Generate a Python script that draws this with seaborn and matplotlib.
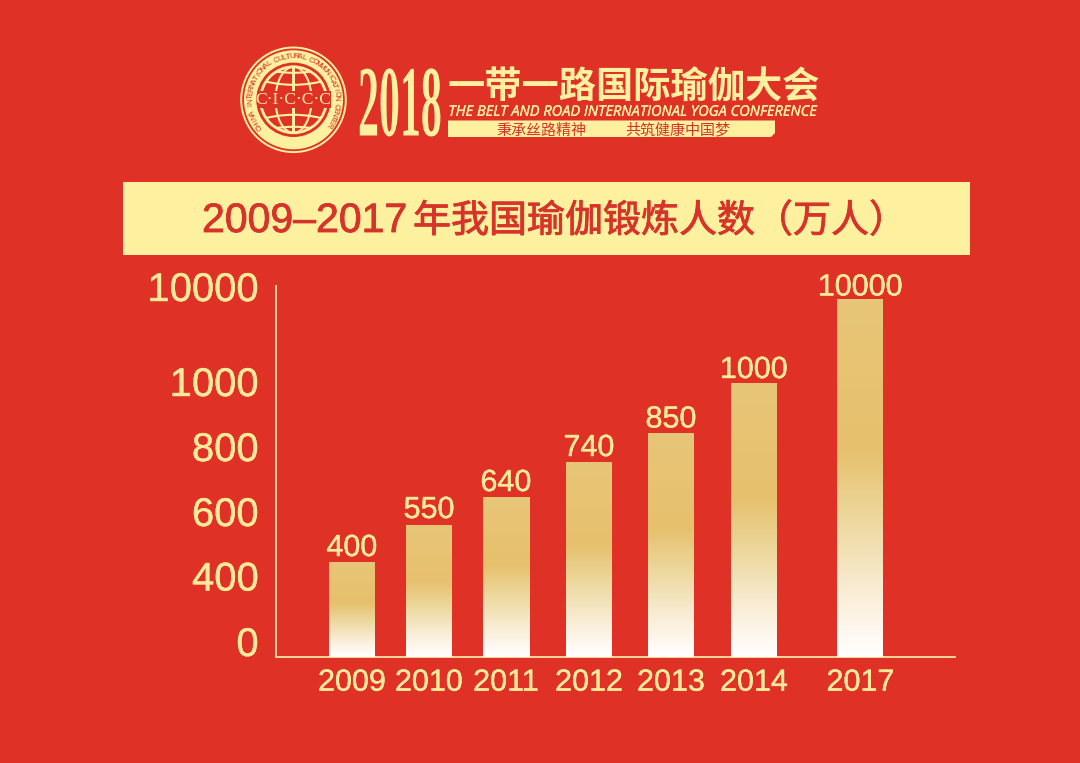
import numpy as np
import matplotlib
matplotlib.use("Agg")
import matplotlib.pyplot as plt
import seaborn as sns
from matplotlib.patches import Circle, Ellipse, Rectangle, Polygon
from matplotlib.patheffects import AbstractPathEffect, withStroke
from matplotlib.transforms import Affine2D, Bbox, BboxTransformTo, TransformedBbox
from matplotlib.colors import LinearSegmentedColormap

# ---- data -------------------------------------------------------------
years = ["2009", "2010", "2011", "2012", "2013", "2014", "2017"]
people = [400, 550, 640, 740, 850, 1000, 10000]
y_tick_labels = ["0", "400", "600", "800", "1000", "10000"]

title_years = "2009–2017"
title_rest = "年我国瑜伽锻炼人数（万人）"
event_year = "2018"
event_cn = "一带一路国际瑜伽大会"
event_en = "THE BELT AND ROAD INTERNATIONAL YOGA CONFERENCE"
slogan_a = "秉承丝路精神"
slogan_b = "共筑健康中国梦"
logo_ring = "CHINA INTERNATIONAL CULTURAL COMMUNICATION CENTER"
logo_mid = "C·I·C·C·C"

# ---- layout (pixels of the 1080x763 canvas) ----------------------------
W, H = 1080, 763
AX_L, AX_R, AX_T, AX_B = 276, 955, 285.7, 657
slots = np.array([352, 429, 506, 589, 671, 754, 860.5])
BAR_PX = 46
# the chart's own uneven vertical scale: value -> height in pixels
scale_values = np.array([0, 400, 550, 640, 740, 850, 1000, 10000, 20000])
scale_px = np.array([0, 94, 132, 160, 195, 223.5, 274, 357.5, AX_B - AX_T])
# tick labels sit at their own heights on the reference
tick_px = np.array([16, 81.5, 146, 211, 276, 371])
# gap between a bar's top and its value label
label_gap_px = [1, 1, 0, 0, 0, -1, -2]

# ---- colours ----------------------------------------------------------
RED = "#E03127"
CREAM = "#FDF09F"
TXT = "#FCEA9B"
LINE = "#FBE3A0"
TITLE_RED = "#D6342A"
grad = LinearSegmentedColormap.from_list(
    "gold_white",
    [(0, "#E8C678"), (0.42, "#E6C06C"), (0.62, "#EDD89E"),
     (0.8, "#F8EBD0"), (0.95, "#FEFAF4"), (1, "#FFFFFF")],
)

sns.set_theme(style="ticks", rc={"figure.facecolor": RED, "axes.facecolor": "none"})
plt.rcParams["font.family"] = ["Liberation Sans", "Noto Sans CJK SC", "DejaVu Sans"]
CJK = ["Noto Sans CJK SC", "DejaVu Sans"]


def px(size):
    return size * 0.72


def heavier(color, lw):
    return [withStroke(linewidth=lw, foreground=color)]


class StretchY(AbstractPathEffect):
    """Stretch a text upward from its baseline (a condensed display face)."""
    def __init__(self, sy):
        super().__init__()
        self.sy = sy

    def draw_path(self, renderer, gc, tpath, affine, rgbFace=None):
        renderer.draw_path(gc, tpath, Affine2D().scale(1, self.sy) + affine, rgbFace)


fig = plt.figure(figsize=(W / 100, H / 100), dpi=100, facecolor=RED)

# ---- backdrop: banner + logo in canvas pixels --------------------------
bg = fig.add_axes([0, 0, 1, 1])
bg.set_xlim(0, W)
bg.set_ylim(H, 0)
bg.axis("off")

bg.add_patch(Rectangle((123, 182), 847, 72.5, fc=CREAM, ec="none"))
bg.text(202, 232, title_years, color=TITLE_RED, fontsize=px(41), ha="left", va="baseline",
        path_effects=heavier(TITLE_RED, 0.6))
bg.text(413, 232, title_rest, color=TITLE_RED, fontsize=px(38), family=CJK, ha="left",
        va="baseline", path_effects=heavier(TITLE_RED, 0.6))

# logo
cx, cy = 293.5, 99.8
bg.add_patch(Circle((cx, cy), 52.3, fc="none", ec=CREAM, lw=1.4))
bg.add_patch(Circle((cx, cy), 49.5, fc=CREAM, ec="none"))
bg.add_patch(Circle((cx, cy), 37.2, fc=RED, ec="none"))
globe = Circle((cx, cy), 33, fc="none", ec=CREAM, lw=2)
bg.add_patch(globe)
for w in (0, 36):
    bg.add_patch(Ellipse((cx, cy), w, 66, fc="none", ec=CREAM, lw=1.5))
for off in (-47, -35, 35, 47):
    a = Ellipse((cx, cy + off), 100, 40, fc="none", ec=CREAM, lw=1.5)
    bg.add_patch(a)
    a.set_clip_path(globe)
bg.add_patch(Rectangle((cx - 37, cy - 8.5), 74, 17, fc=RED, ec="none"))
bg.text(cx, cy + 0.5, logo_mid, color=CREAM, fontsize=px(17.5), family="Liberation Serif",
        ha="center", va="center")
n = len(logo_ring)
for i, ch in enumerate(logo_ring):
    ang = np.radians(218 - i * (252 / (n - 1)))
    bg.text(cx + 43 * np.cos(ang), cy - 43 * np.sin(ang), ch, color=TITLE_RED,
            fontsize=px(8), ha="center", va="center",
            rotation=np.degrees(ang) - 90, rotation_mode="anchor")

# header text
t = bg.text(358, 135.5, event_year, color=CREAM, fontsize=px(41.9), family="Liberation Serif",
            fontweight="bold", ha="left", va="baseline")
t.set_path_effects([StretchY(2.41)])

bg.text(634, 88, event_cn, color=CREAM, fontsize=px(37.2), family=CJK, fontweight="bold",
        ha="center", va="center")
bg.text(632.5, 112.3, event_en, color=CREAM, fontsize=px(14.6), family="Open Sans",
        style="italic", ha="center", va="center", path_effects=heavier(CREAM, 0.25))
bg.add_patch(Polygon([(448, 120.5), (775, 120.5), (775, 133), (771, 137), (448, 137)],
                     fc=CREAM, ec="none"))
bg.text(541, 130.5, slogan_a, color=TITLE_RED, fontsize=px(15), family=CJK,
        ha="center", va="center")
bg.text(677.5, 130.5, slogan_b, color=TITLE_RED, fontsize=px(15), family=CJK,
        ha="center", va="center")

# ---- chart -------------------------------------------------------------
ax = fig.add_axes([AX_L / W, 1 - AX_B / H, (AX_R - AX_L) / W, (AX_B - AX_T) / H])
sns.barplot(x=slots, y=people, native_scale=True, width=BAR_PX / np.diff(slots).min(),
            color="#E5BF6A", saturation=1, linewidth=0, ax=ax, zorder=2)


def forward(v):
    return np.interp(v, scale_values, scale_px)


def inverse(p):
    return np.interp(p, scale_px, scale_values)


ax.set_yscale("function", functions=(forward, inverse))

ramp = grad(np.linspace(0, 1, 256))[:, :3][:, None, :]
bars = ax.containers[0]
for bar in bars:
    box = TransformedBbox(Bbox(bar.get_bbox().get_points()), ax.transData)
    ax.imshow(ramp, extent=(0, 1, 0, 1), origin="upper", aspect="auto",
              interpolation="bilinear", transform=BboxTransformTo(box), zorder=3)

ax.set_xlim(AX_L, AX_R)
ax.set_ylim(0, 20000)
value_texts = ax.bar_label(bars, labels=[str(v) for v in people], color=TXT, fontsize=px(30.5),
                           zorder=4)
for vt, gap in zip(value_texts, label_gap_px):
    vt.xyann = (0, px(gap))
    vt.set_path_effects(heavier(TXT, 0.3))

ax.set_xticks(slots, years)
ax.set_yticks(inverse(tick_px), y_tick_labels)
ax.minorticks_off()
ax.tick_params(axis="x", length=0, pad=8.4, labelsize=px(30.5), labelcolor=TXT)
ax.tick_params(axis="y", length=0, pad=12.5, labelsize=px(40), labelcolor=TXT)
for lab in ax.get_xticklabels() + ax.get_yticklabels():
    lab.set_path_effects(heavier(TXT, 0.3))
ax.set_xlabel("")
ax.set_ylabel("")
sns.despine(ax=ax)
for s in ("left", "bottom"):
    ax.spines[s].set_color(LINE)
    ax.spines[s].set_linewidth(1.3)

fig.savefig("out.png", dpi=100, facecolor=RED)
